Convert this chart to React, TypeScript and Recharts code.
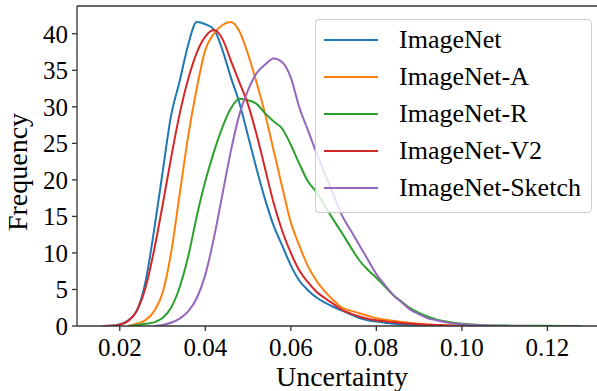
import React from "react";
import { LineChart, Line, XAxis, YAxis, Legend, ReferenceLine, Label } from "recharts";

const FONT = "'Liberation Serif', 'Times New Roman', serif";

// uncertainty grid (x) shared by all curves
const uncertainty = [
  0.016, 0.018, 0.02, 0.022, 0.024, 0.026, 0.028, 0.03, 0.032, 0.034,
  0.036, 0.038, 0.04, 0.042, 0.044, 0.046, 0.048, 0.05, 0.052, 0.054,
  0.056, 0.058, 0.06, 0.062, 0.064, 0.066, 0.068, 0.07, 0.072, 0.074,
  0.076, 0.078, 0.08, 0.082, 0.084, 0.086, 0.088, 0.09, 0.092, 0.094,
  0.096, 0.098, 0.1, 0.104, 0.108, 0.112, 0.116, 0.12, 0.124, 0.128,
];

// density values (null = curve not drawn there)
const imagenet = [
  0, 0.02, 0.2, 0.8, 2.1, 6.0, 13.0, 21.0, 28.8, 33.5,
  38.5, 41.6, 41.3, 40.6, 37.8, 34.0, 30.5, 26.0, 21.5, 17.3,
  13.7, 11.0, 8.3, 6.2, 4.9, 3.9, 3.2, 2.6, 2.1, 1.6,
  1.1, 0.8, 0.6, 0.45, 0.3, 0.2, 0.12, 0.08, 0.05, 0.03,
  0.02, 0.01, 0, 0, null, null, null, null, null, null,
];
const imagenetA = [
  null, null, null, 0, 0.3, 0.8, 2.0, 4.5, 10.0, 18.0,
  26.0, 32.5, 37.8, 40.0, 41.2, 41.6, 40.3, 37.2, 33.3, 29.0,
  24.0, 19.0, 14.2, 11.0, 8.2, 6.2, 4.7, 3.5, 2.5, 2.1,
  1.75, 1.4, 1.05, 0.85, 0.7, 0.55, 0.4, 0.3, 0.2, 0.15,
  0.1, 0.06, 0.04, 0.01, 0, null, null, null, null, null,
];
const imagenetR = [
  null, null, null, 0, 0.1, 0.3, 0.5, 1.1, 2.5, 5.3,
  9.5, 15.0, 19.8, 23.8, 27.2, 29.8, 31.1, 30.9, 30.4, 29.1,
  28.0, 27.0, 24.8, 22.2, 19.8, 18.3, 16.4, 14.5, 12.7, 10.8,
  9.0, 7.7, 6.6, 5.4, 4.2, 3.3, 2.4, 1.8, 1.3, 0.9,
  0.65, 0.45, 0.3, 0.15, 0.08, 0.05, 0.03, 0.02, 0.01, 0,
];
const imagenetV2 = [
  0, 0.02, 0.2, 0.7, 2.1, 5.2, 10.3, 16.5, 23.0, 29.0,
  33.8, 37.4, 39.6, 40.5, 39.3, 36.3, 33.3, 30.3, 26.2, 21.5,
  16.8, 13.0, 10.0, 7.6, 6.0, 4.7, 3.8, 3.0, 2.2, 1.7,
  1.3, 1.0, 0.8, 0.65, 0.5, 0.4, 0.33, 0.25, 0.18, 0.12,
  0.08, 0.05, 0.03, 0.01, 0, null, null, null, null, null,
];
const imagenetSketch = [
  null, null, null, null, null, null, 0, 0.15, 0.45, 1.0,
  2.0, 3.8, 7.0, 12.0, 18.0, 24.0, 29.0, 32.3, 34.6, 35.8,
  36.6, 36.1, 34.0, 29.9, 26.8, 23.7, 20.8, 18.0, 15.1, 13.1,
  11.1, 9.1, 7.1, 5.6, 4.2, 3.2, 2.2, 1.6, 1.05, 0.8,
  0.55, 0.35, 0.25, 0.1, 0.04, 0.01, 0, null, null, null,
];

const xTicks = [0.02, 0.04, 0.06, 0.08, 0.1, 0.12];
const yTicks = [0, 5, 10, 15, 20, 25, 30, 35, 40];

const X_DOMAIN: [number, number] = [0.01, 0.1316];
const Y_MAX = 43.8;

const series = [
  { key: "imagenet", name: "ImageNet", color: "#1f77b4", values: imagenet },
  { key: "imagenetA", name: "ImageNet-A", color: "#ff7f0e", values: imagenetA },
  { key: "imagenetR", name: "ImageNet-R", color: "#2ca02c", values: imagenetR },
  { key: "imagenetV2", name: "ImageNet-V2", color: "#d62728", values: imagenetV2 },
  { key: "imagenetSketch", name: "ImageNet-Sketch", color: "#9467bd", values: imagenetSketch },
];

const data = uncertainty.map((x, i) => {
  const row: Record<string, number | null> = { x };
  series.forEach((s) => {
    row[s.key] = s.values[i];
  });
  return row;
});

const AXIS = "#333333";

const renderLegend = () => (
  <div
    style={{
      width: 277,
      height: 194,
      boxSizing: "border-box",
      border: "1px solid #cccccc",
      borderRadius: 4,
      background: "rgba(255,255,255,0.8)",
      fontFamily: FONT,
      fontSize: 26,
      paddingTop: 1,
      color: "#000",
    }}
  >
    {series.map((s) => (
      <div key={s.key} style={{ display: "flex", alignItems: "center", height: 37 }}>
        <div style={{ marginLeft: 8, width: 54, height: 2, background: s.color }} />
        <span style={{ marginLeft: 21, lineHeight: "37px" }}>{s.name}</span>
      </div>
    ))}
  </div>
);

export default function App() {
  return (
    <div style={{ position: "absolute", left: 0, top: 0, background: "#fff" }}>
      <LineChart
        width={597}
        height={391}
        data={data}
        margin={{ top: 6, right: 0, bottom: 0, left: 0 }}
      >
        <XAxis
          dataKey="x"
          type="number"
          domain={X_DOMAIN}
          ticks={xTicks}
          tickFormatter={(v: number) => v.toFixed(2)}
          height={65}
          stroke={AXIS}
          strokeWidth={1.3}
          tickSize={5}
          tickMargin={7}
          tick={{ fill: "#000", fontFamily: FONT, fontSize: 25 }}
          allowDataOverflow
        >
          <Label
            value="Uncertainty"
            position="insideBottom"
            offset={5}
            dx={5}
            style={{ fill: "#000", fontFamily: FONT, fontSize: 28 }}
          />
        </XAxis>
        <YAxis
          type="number"
          domain={[0, Y_MAX]}
          ticks={yTicks}
          width={77}
          stroke={AXIS}
          strokeWidth={1.3}
          tickSize={5}
          tickMargin={4}
          tick={{ fill: "#000", fontFamily: FONT, fontSize: 25 }}
          allowDataOverflow
        >
          <Label
            value="Frequency"
            angle={-90}
            position="insideLeft"
            offset={17}
            dy={6}
            style={{ fill: "#000", fontFamily: FONT, fontSize: 28, textAnchor: "middle" }}
          />
        </YAxis>
        <ReferenceLine y={Y_MAX} stroke={AXIS} strokeWidth={1.3} />
        {series.map((s) => (
          <Line
            key={s.key}
            type="monotone"
            dataKey={s.key}
            name={s.name}
            stroke={s.color}
            strokeWidth={2}
            dot={false}
            activeDot={false}
            isAnimationActive={false}
          />
        ))}
        <Legend
          layout="vertical"
          align="center"
          verticalAlign="middle"
          content={renderLegend}
          wrapperStyle={{ left: 315, top: 19, width: 277, height: 194 }}
        />
      </LineChart>
    </div>
  );
}
